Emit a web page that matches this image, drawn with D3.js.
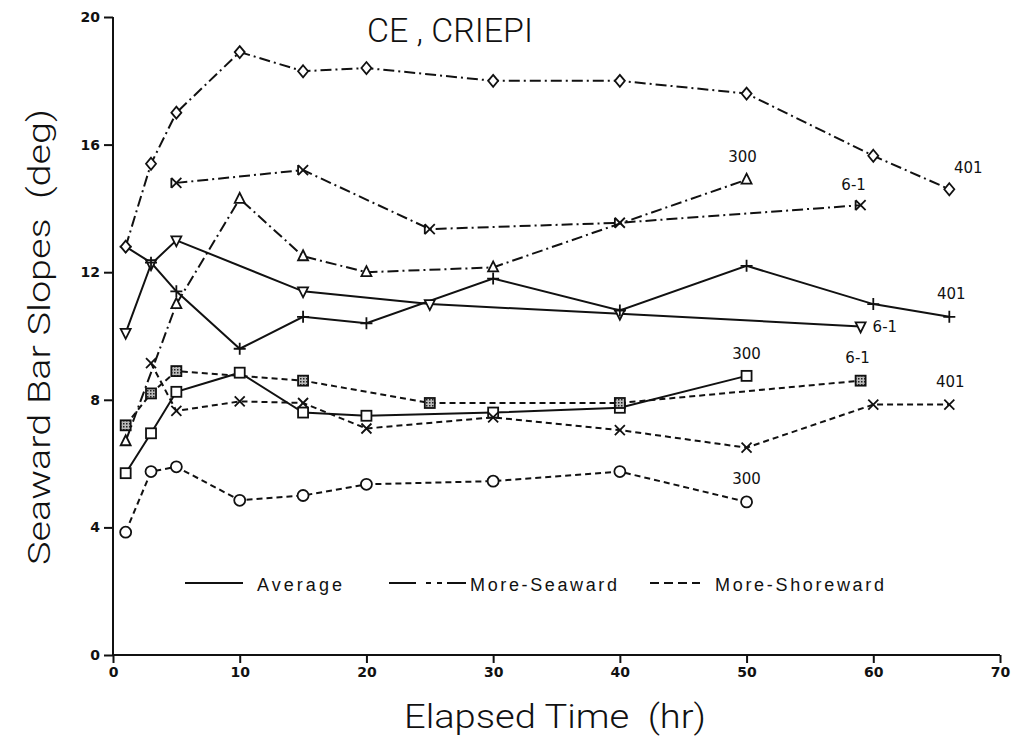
<!DOCTYPE html>
<html><head><meta charset="utf-8">
<script src="https://cdn.jsdelivr.net/npm/d3@7"></script>
<style>body{margin:0;background:#fff}svg{display:block}</style>
</head><body>
<script>
// ---- data ----
const xTicks = [0,10,20,30,40,50,60,70];
const yTicks = [0,4,8,12,16,20];

const avg300X = [1,3,5,10,15,20,30,40,50];
const avg300Y = [5.7,6.95,8.25,8.85,7.6,7.5,7.6,7.75,8.75];
const avg61X  = [1,3,5,15,25,40,59];
const avg61Y  = [10.1,12.25,13.0,11.4,11.0,10.7,10.3];
const avg401X = [1,3,5,10,15,20,30,40,50,60,66];
const avg401Y = [12.8,12.3,11.4,9.6,10.6,10.4,11.8,10.8,12.2,11.0,10.6];

const sea300X = [1,5,10,15,20,30,50];
const sea300Y = [6.7,11.0,14.3,12.5,12.0,12.15,14.9];
const sea61X  = [5,15,25,40,59];
const sea61Y  = [14.8,15.2,13.35,13.55,14.1];
const sea401X = [1,3,5,10,15,20,30,40,50,60,66];
const sea401Y = [12.8,15.4,17.0,18.9,18.3,18.4,18.0,18.0,17.6,15.65,14.6];

const sh300X = [1,3,5,10,15,20,30,40,50];
const sh300Y = [3.85,5.75,5.9,4.85,5.0,5.35,5.45,5.75,4.8];
const sh61X  = [1,3,5,15,25,40,59];
const sh61Y  = [7.2,8.2,8.9,8.6,7.9,7.9,8.6];
const sh401X = [3,5,10,15,20,30,40,50,60,66];
const sh401Y = [9.15,7.65,7.95,7.9,7.1,7.45,7.05,6.5,7.85,7.85];

const seriesNames = ["300","6-1","401"];
const legendLabels = ["Average","More-Seaward","More-Shoreward"];

// ---- layout ----
const W = 1018, H = 750;
const x = d3.scaleLinear().domain([0,70]).range([113,1000]);
const y = d3.scaleLinear().domain([0,20]).range([655,17]);

const svg = d3.select("body").append("svg").attr("width",W).attr("height",H);

const styles = {
  avg:  {dash:null},
  sea:  {dash:"11,4,2,4"},
  sh:   {dash:"6,4"}
};

const series = [
  {xs:avg300X, ys:avg300Y, st:"avg", m:"square", label:seriesNames[0], lx:0, ly:-17, anchor:"middle"},
  {xs:avg61X,  ys:avg61Y,  st:"avg", m:"tridown", label:seriesNames[1], lx:12, ly:6, anchor:"start"},
  {xs:avg401X, ys:avg401Y, st:"avg", m:"plus", label:seriesNames[2], lx:2, ly:-18, anchor:"middle"},
  {xs:sea300X, ys:sea300Y, st:"sea", m:"triup", label:seriesNames[0], lx:-4, ly:-18, anchor:"middle"},
  {xs:sea61X,  ys:sea61Y,  st:"sea", m:"xbar", label:seriesNames[1], lx:-7, ly:-15, anchor:"middle"},
  {xs:sea401X, ys:sea401Y, st:"sea", m:"diamond", label:seriesNames[2], lx:19, ly:-16, anchor:"middle"},
  {xs:sh300X,  ys:sh300Y,  st:"sh", m:"circle", label:seriesNames[0], lx:0, ly:-18, anchor:"middle"},
  {xs:sh61X,   ys:sh61Y,   st:"sh", m:"shaded", label:seriesNames[1], lx:-3, ly:-18, anchor:"middle"},
  {xs:sh401X,  ys:sh401Y,  st:"sh", m:"x", label:seriesNames[2], lx:1, ly:-18, anchor:"middle"}
];

// pattern for shaded squares
const defs = svg.append("defs");
const pat = defs.append("pattern").attr("id","dots").attr("width",3).attr("height",3)
  .attr("patternUnits","userSpaceOnUse");
pat.append("rect").attr("width",3).attr("height",3).attr("fill","#bbb");
pat.append("rect").attr("width",1.5).attr("height",1.5).attr("fill","#222");

const line = d3.line().x(d=>x(d[0])).y(d=>y(d[1]));
const gLines = svg.append("g");
const gMarks = svg.append("g");

function drawMarker(g, m, cx, cy){
  const s = 5;
  const a = {fill:"#fff", stroke:"#111", "stroke-width":1.8};
  let el;
  switch(m){
    case "square": el = g.append("rect").attr("x",cx-s).attr("y",cy-s).attr("width",2*s).attr("height",2*s); break;
    case "shaded": el = g.append("rect").attr("x",cx-s).attr("y",cy-s).attr("width",2*s).attr("height",2*s); a.fill="url(#dots)"; break;
    case "circle": el = g.append("circle").attr("cx",cx).attr("cy",cy).attr("r",s+0.5); break;
    case "diamond": el = g.append("path").attr("d",`M${cx},${cy-s-1}L${cx+s},${cy}L${cx},${cy+s+1}L${cx-s},${cy}Z`); break;
    case "triup": el = g.append("path").attr("d",`M${cx},${cy-s-1}L${cx+s},${cy+s-1}L${cx-s},${cy+s-1}Z`); break;
    case "tridown": el = g.append("path").attr("d",`M${cx-s},${cy-s+1}L${cx+s},${cy-s+1}L${cx},${cy+s+1}Z`); break;
    case "plus": el = g.append("path").attr("d",`M${cx-s-1},${cy}H${cx+s+1}M${cx},${cy-s-1}V${cy+s+1}`); a.fill="none"; break;
    case "x": el = g.append("path").attr("d",`M${cx-s},${cy-s}L${cx+s},${cy+s}M${cx+s},${cy-s}L${cx-s},${cy+s}`); a.fill="none"; break;
    case "xbar": el = g.append("path").attr("d",`M${cx-s},${cy-s}L${cx+s},${cy+s}M${cx+s},${cy-s}L${cx-s},${cy+s}M${cx-s},${cy-s}V${cy+s}`); a.fill="none"; break;
  }
  for (const k in a) el.attr(k,a[k]);
}

series.forEach(sr=>{
  const pts = sr.xs.map((v,i)=>[v, sr.ys[i]]);
  gLines.append("path").datum(pts).attr("d",line)
    .attr("fill","none").attr("stroke","#111").attr("stroke-width",2)
    .attr("stroke-dasharray", styles[sr.st].dash);
  pts.forEach(p=>drawMarker(gMarks, sr.m, x(p[0]), y(p[1])));
  const last = pts[pts.length-1];
  svg.append("text").attr("x", x(last[0])+sr.lx).attr("y", y(last[1])+sr.ly)
    .attr("text-anchor", sr.anchor).attr("font-family","DejaVu Sans").attr("font-size",15)
    .attr("fill","#111").text(sr.label);
});

// axes
const xAxis = d3.axisBottom(x).tickValues(xTicks).tickSize(8).tickFormat(d3.format("d"));
const yAxis = d3.axisLeft(y).tickValues(yTicks).tickSize(9).tickFormat(d3.format("d"));
const gx = svg.append("g").attr("transform","translate(0,655)").call(xAxis);
const gy = svg.append("g").attr("transform","translate(113,0)").call(yAxis);
[gx,gy].forEach(g=>{
  g.select(".domain").attr("stroke","#111").attr("stroke-width",2);
  g.selectAll(".tick line").attr("stroke","#111").attr("stroke-width",2);
  g.selectAll(".tick text").attr("font-family","DejaVu Sans").attr("font-weight","bold")
    .attr("font-size",14).attr("fill","#111");
});
gx.select(".domain").attr("d","M113,0H1000");
gx.selectAll(".tick text").attr("dy","0.8em");
gy.select(".domain").attr("d","M0,655V17");
gy.selectAll(".tick text").attr("x",-13);

// title
svg.append("text").attr("x",450).attr("y",42).attr("text-anchor","middle")
  .attr("font-family","Liberation Sans Narrow, Roboto, Liberation Sans").attr("font-size",34)
  .attr("font-weight",300)
  .attr("textLength",166).attr("lengthAdjust","spacingAndGlyphs").attr("fill","#111").text("CE , CRIEPI");

// axis labels
svg.append("text").attr("x",555).attr("y",728).attr("text-anchor","middle")
  .attr("font-family","Liberation Sans Narrow, Roboto, Liberation Sans").attr("font-size",33)
  .attr("font-weight",300)
  .attr("textLength",302).attr("lengthAdjust","spacingAndGlyphs").attr("fill","#111")
  .attr("xml:space","preserve").text("Elapsed Time  (hr)");
svg.append("text").attr("transform","translate(50,337) rotate(-90)").attr("text-anchor","middle")
  .attr("font-family","Liberation Sans Narrow, Roboto, Liberation Sans").attr("font-size",32)
  .attr("font-weight",300)
  .attr("textLength",456).attr("lengthAdjust","spacingAndGlyphs").attr("fill","#111")
  .attr("xml:space","preserve").text("Seaward Bar Slopes  (deg)");

// legend
const legend = [
  {x1:185, x2:243, tx:257, tl:85, dash:null},
  {x1:389, x2:466, tx:470, tl:147, dash:"27,10,5,6,5,5,19,100"},
  {x1:650, x2:700, tx:715, tl:169, dash:"9,5"}
];
legend.forEach((l,i)=>{
  svg.append("line").attr("x1",l.x1).attr("x2",l.x2).attr("y1",583).attr("y2",583)
    .attr("stroke","#111").attr("stroke-width",2).attr("stroke-dasharray",l.dash);
  svg.append("text").attr("x",l.tx).attr("y",591).attr("font-family","Liberation Sans")
    .attr("font-size",18).attr("textLength",l.tl).attr("lengthAdjust","spacing")
    .attr("fill","#111").text(legendLabels[i]);
});
</script>
</body></html>
